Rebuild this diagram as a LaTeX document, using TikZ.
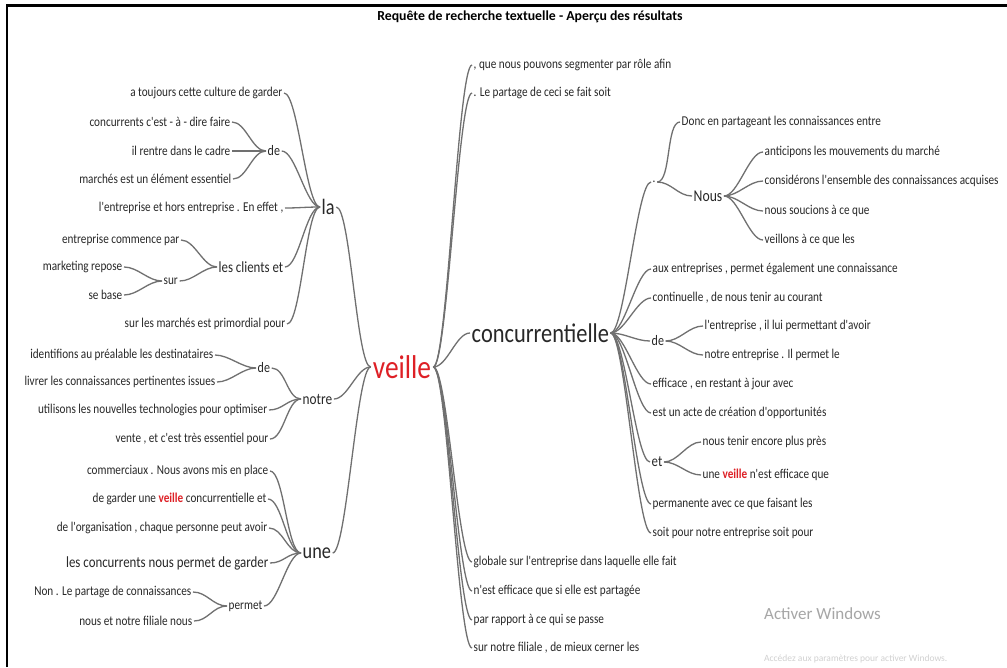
\documentclass[tikz,border=0pt]{standalone}
\usepackage{fontspec}
\setmainfont{Carlito}
\newfontfamily\cf[FakeStretch=0.83]{Carlito}
\definecolor{vred}{RGB}{222,32,38}
\definecolor{lnk}{RGB}{112,112,112}
\definecolor{txt}{RGB}{40,40,40}
\newcommand\fs[1]{\fontsize{#1}{#1}\selectfont}
\newcommand\vv{{\bfseries\color{vred}veille}}
\tikzset{
  w/.style={inner sep=1.5pt, text=txt, font=\cf\fs{13.5}},
  L/.style={w, anchor=east},
  R/.style={w, anchor=west},
  conn/.style={draw=lnk, line width=1.3pt},
}
\newcommand\lk[2]{\draw[conn] (#1.east) .. controls +(14,0) and +(-14,0) .. (#2.west);}
\begin{document}
\begin{tikzpicture}[x=1pt,y=-1pt]
\useasboundingbox (0,0) rectangle (1007,667);
\fill[white] (0,0) rectangle (1007,667);
\draw[line width=2.6pt,black] (7,667) -- (7,5.5) -- (1007,5.5);
\node[font=\bfseries\fs{13.8}, text=black] (title) at (530,17) {Requête de recherche textuelle - Aperçu des résultats};

% centre
\node[font=\cf\fs{33}, text=vred, inner sep=2pt] (veille) at (402,367) {veille};

% ---------- left ----------
\node[R, font=\cf\fs{22}] (la) at (320,207) {la};
\node[R, font=\cf\fs{16}] (notre) at (301,399) {notre};
\node[R, font=\cf\fs{22}] (une) at (301,553) {une};

\node[L] (l1) at (284,93) {a toujours cette culture de garder};
\node[R, font=\cf\fs{14.5}] (de1) at (266,151) {de};
\node[L] (d1a) at (232,122) {concurrents c'est - à - dire faire};
\node[L] (d1b) at (232,151) {il rentre dans le cadre};
\node[L] (d1c) at (233,179) {marchés est un élément essentiel};
\node[L] (l3) at (285,208) {l'entreprise et hors entreprise . En effet ,};
\node[R, font=\cf\fs{15.5}] (lc) at (217,267) {les clients et};
\node[L] (lc1) at (181,240) {entreprise commence par};
\node[R] (sur) at (162,281) {sur};
\node[L] (s1) at (124,267) {marketing repose};
\node[L] (s2) at (124,295) {se base};
\node[L] (l5) at (287,324) {sur les marchés est primordial pour};

\node[R, font=\cf\fs{14.5}] (de2) at (256,368) {de};
\node[L] (n1) at (215,355) {identifions au préalable les destinataires};
\node[L] (n2) at (217,382) {livrer les connaissances pertinentes issues};
\node[L] (n3) at (269,410) {utilisons les nouvelles technologies pour optimiser};
\node[L] (n4) at (270,439) {vente , et c'est très essentiel pour};

\node[L] (u1) at (270,471) {commerciaux . Nous avons mis en place};
\node[L] (u2) at (268,499) {de garder une \vv{} concurrentielle et};
\node[L] (u3) at (269,528) {de l'organisation , chaque personne peut avoir};
\node[L, font=\cf\fs{15.5}] (u4) at (270,563) {les concurrents nous permet de garder};
\node[R] (permet) at (227,606) {permet};
\node[L] (p1) at (193,592) {Non . Le partage de connaissances};
\node[L] (p2) at (194,621) {nous et notre filiale nous};

% ---------- right ----------
\node[R] (r1) at (472,65) {, que nous pouvons segmenter par rôle afin};
\node[R] (r2) at (472,93) {. Le partage de ceci se fait soit};
\node[R, font=\cf\fs{27}] (conc) at (470,333) {concurrentielle};
\node[R] (r4) at (472,562) {globale sur l'entreprise dans laquelle elle fait};
\node[R] (r5) at (472,591) {n'est efficace que si elle est partagée};
\node[R] (r6) at (472,620) {par rapport à ce qui se passe};
\node[R] (r7) at (472,648) {sur notre filiale , de mieux cerner les};

\node[R] (dot) at (651,182) {.};
\node[R] (donc) at (680,122) {Donc en partageant les connaissances entre};
\node[R, font=\cf\fs{16.5}] (nous) at (692,196) {Nous};
\node[R] (a1) at (763,152) {anticipons les mouvements du marché};
\node[R] (a2) at (763,181) {considérons l'ensemble des connaissances acquises};
\node[R] (a3) at (763,211) {nous soucions à ce que};
\node[R] (a4) at (763,240) {veillons à ce que les};
\node[R] (c2) at (651,269) {aux entreprises , permet également une connaissance};
\node[R] (c3) at (651,298) {continuelle , de nous tenir au courant};
\node[R, font=\cf\fs{14.5}] (de3) at (650,341) {de};
\node[R] (e1) at (703,326) {l'entreprise , il lui permettant d'avoir};
\node[R] (e2) at (703,355) {notre entreprise . Il permet le};
\node[R] (c5) at (651,384) {efficace , en restant à jour avec};
\node[R] (c6) at (651,413) {est un acte de création d'opportunités};
\node[R, font=\cf\fs{15.5}] (et) at (650,462) {et};
\node[R] (t1) at (701,442) {nous tenir encore plus près};
\node[R] (t2) at (701,475) {une \vv{} n'est efficace que};
\node[R] (c8) at (651,504) {permanente avec ce que faisant les};
\node[R] (c9) at (651,533) {soit pour notre entreprise soit pour};

\node[anchor=west, inner sep=0pt, font=\fs{17}, text=black!35] (act) at (764,614) {Activer Windows};
\node[anchor=west, inner sep=0pt, font=\fs{9.5}, text=black!18] (act2) at (764,659) {Accédez aux paramètres pour activer Windows.};

% ---------- connectors ----------
\foreach \c in {l1,de1,l3,lc,l5} {\lk{\c}{la}}
\foreach \c in {d1a,d1b,d1c} {\lk{\c}{de1}}
\foreach \c in {lc1,sur} {\lk{\c}{lc}}
\foreach \c in {s1,s2} {\lk{\c}{sur}}
\foreach \c in {de2,n3,n4} {\lk{\c}{notre}}
\foreach \c in {n1,n2} {\lk{\c}{de2}}
\foreach \c in {u1,u2,u3,u4,permet} {\lk{\c}{une}}
\foreach \c in {p1,p2} {\lk{\c}{permet}}
\foreach \c in {la,notre,une} {\lk{\c}{veille}}

\foreach \c in {r1,r2,conc,r4,r5,r6,r7} {\lk{veille}{\c}}
\foreach \c in {dot,c2,c3,de3,c5,c6,et,c8,c9} {\lk{conc}{\c}}
\foreach \c in {donc,nous} {\lk{dot}{\c}}
\foreach \c in {a1,a2,a3,a4} {\lk{nous}{\c}}
\foreach \c in {e1,e2} {\lk{de3}{\c}}
\foreach \c in {t1,t2} {\lk{et}{\c}}
\end{tikzpicture}
\end{document}
